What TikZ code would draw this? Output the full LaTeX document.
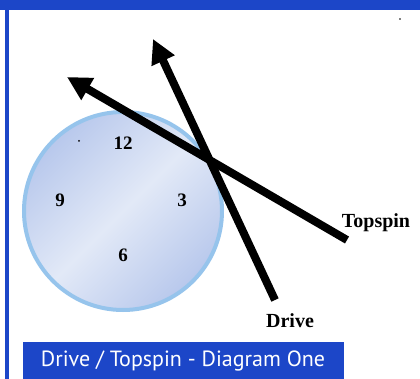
\documentclass[tikz,border=0pt]{standalone}
\usepackage{fontspec}
\setmainfont{Liberation Serif}
\newfontfamily\capfont{PT Sans}
\usetikzlibrary{arrows.meta}
\definecolor{frameblue}{RGB}{28,70,200}
\definecolor{ringblue}{RGB}{150,196,236}
\definecolor{balldark}{RGB}{184,200,236}
\definecolor{balllight}{RGB}{226,233,247}
\tikzset{
  num/.style={font=\bfseries\fontsize{19}{19}\selectfont, inner sep=0pt},
  lbl/.style={font=\bfseries\fontsize{20}{20}\selectfont, inner sep=0pt},
  shot/.style={line width=8pt, -{Triangle[length=24pt,width=24pt]}},
  speck/.style={fill=black}
}
\begin{document}
\begin{tikzpicture}[x=1pt,y=-1pt]
\useasboundingbox (0,0) rectangle (420,379);
\fill[white] (0,0) rectangle (420,379);
% frame
\fill[frameblue] (0,0) rectangle (420,10);
\fill[frameblue] (5,0) rectangle (9,379);
% ball
\shade[left color=balldark, right color=balldark, middle color=balllight, shading angle=45]
  (123,211) circle[radius=99];
\draw[ringblue, line width=4pt] (123,211) circle[radius=99];
\node[num] (n12) at (123,143) {12};
\node[num] (n9) at (60,200) {9};
\node[num] (n3) at (182,200) {3};
\node[num] (n6) at (123,255) {6};
\fill[speck] (79,141) circle[radius=1];
\fill[speck] (400,19) circle[radius=0.9];
% shots
\coordinate (ts0) at (347,240);
\coordinate (ts1) at (67,77);
\coordinate (dr0) at (275,300);
\coordinate (dr1) at (153,39);
\draw[shot] (ts0) -- (ts1);
\draw[shot] (dr0) -- (dr1);
\node[lbl] (topspin) at (376,223) {Topspin};
\node[lbl] (drive) at (290,321) {Drive};
% caption
\fill[frameblue] (23,342) rectangle (344,379);
\node[text=white, font=\capfont\fontsize{22}{22}\selectfont, inner sep=0pt] (cap) at (183,361) {Drive / Topspin - Diagram One};
\end{tikzpicture}
\end{document}
